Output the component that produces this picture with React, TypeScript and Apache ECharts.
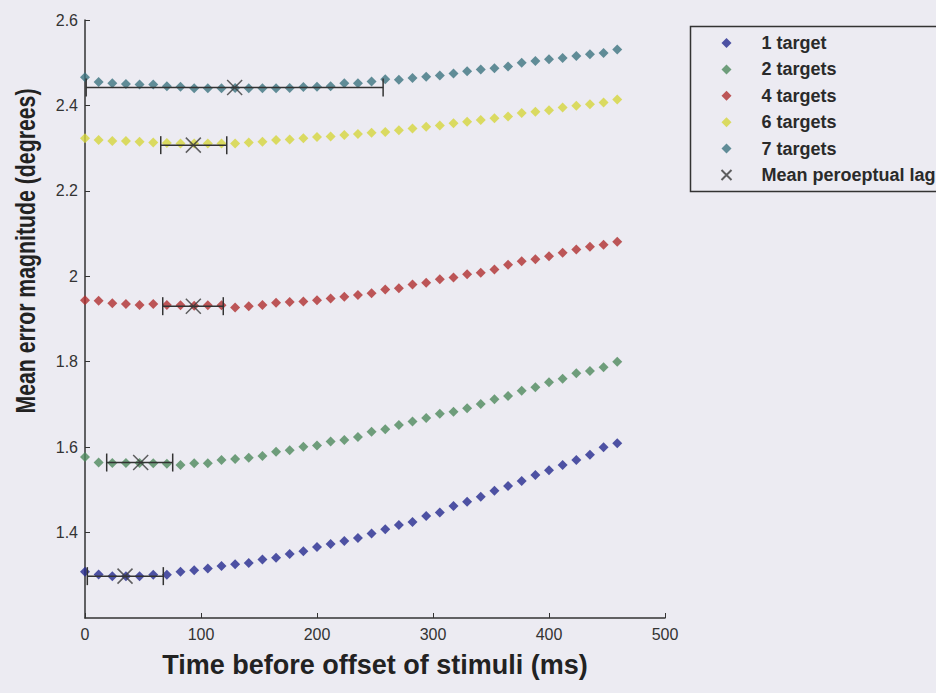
import React, { useEffect, useRef } from "react";
import * as echarts from "echarts";

// Frame times (ms before offset), 85 Hz frames
const times = [
  0, 11.76, 23.53, 35.29, 47.06, 58.82, 70.59, 82.35, 94.12, 105.88,
  117.65, 129.41, 141.18, 152.94, 164.71, 176.47, 188.24, 200, 211.76, 223.53,
  235.29, 247.06, 258.82, 270.59, 282.35, 294.12, 305.88, 317.65, 329.41, 341.18,
  352.94, 364.71, 376.47, 388.24, 400, 411.76, 423.53, 435.29, 447.06, 458.82,
];

const oneTarget = [
  1.308, 1.302, 1.298, 1.298, 1.298, 1.301, 1.301, 1.308, 1.312, 1.316,
  1.322, 1.326, 1.329, 1.337, 1.341, 1.35, 1.356, 1.366, 1.373, 1.38,
  1.387, 1.398, 1.408, 1.418, 1.425, 1.439, 1.447, 1.462, 1.472, 1.484,
  1.498, 1.509, 1.521, 1.535, 1.546, 1.558, 1.57, 1.582, 1.6, 1.609,
];
const twoTargets = [
  1.577, 1.564, 1.563, 1.563, 1.563, 1.562, 1.561, 1.558, 1.562, 1.562,
  1.57, 1.572, 1.575, 1.579, 1.589, 1.593, 1.601, 1.604, 1.613, 1.617,
  1.624, 1.636, 1.642, 1.652, 1.66, 1.668, 1.678, 1.683, 1.691, 1.701,
  1.712, 1.72, 1.732, 1.74, 1.752, 1.76, 1.773, 1.778, 1.787, 1.8,
];
const fourTargets = [
  1.944, 1.943, 1.937, 1.935, 1.933, 1.935, 1.933, 1.932, 1.931, 1.932,
  1.932, 1.927, 1.93, 1.933, 1.938, 1.94, 1.941, 1.944, 1.948, 1.952,
  1.956, 1.96, 1.969, 1.972, 1.981, 1.985, 1.993, 1.997, 2.005, 2.008,
  2.016, 2.027, 2.035, 2.04, 2.047, 2.055, 2.063, 2.069, 2.074, 2.081,
];
const sixTargets = [
  2.323, 2.319, 2.317, 2.317, 2.315, 2.313, 2.312, 2.311, 2.311, 2.311,
  2.311, 2.311, 2.313, 2.315, 2.319, 2.32, 2.323, 2.326, 2.327, 2.331,
  2.333, 2.336, 2.338, 2.342, 2.346, 2.35, 2.353, 2.358, 2.362, 2.366,
  2.37, 2.374, 2.382, 2.385, 2.389, 2.395, 2.399, 2.403, 2.407, 2.414,
];
const sevenTargets = [
  2.466, 2.455, 2.452, 2.45, 2.449, 2.449, 2.445, 2.444, 2.44, 2.44,
  2.44, 2.441, 2.44, 2.44, 2.44, 2.441, 2.443, 2.444, 2.445, 2.452,
  2.452, 2.456, 2.461, 2.46, 2.464, 2.467, 2.47, 2.475, 2.48, 2.484,
  2.487, 2.491, 2.5, 2.504, 2.508, 2.511, 2.516, 2.52, 2.523, 2.531,
];

// Mean perceptual lag (ms) with horizontal error bars, per set size
const lagMean = [34.5, 48, 93.4, 93.4, 129];
const lagY = [1.298, 1.564, 1.93, 2.307, 2.442];
const lagLow = [2, 18.7, 67, 65.3, 1];
const lagHigh = [67.5, 75.6, 119.2, 122.2, 257];

const seriesNames = ["1 target", "2 targets", "4 targets", "6 targets", "7 targets"];
const seriesValues = [oneTarget, twoTargets, fourTargets, sixTargets, sevenTargets];
const seriesColors = ["#262a8f", "#4f8a5c", "#b03030", "#d6d63c", "#3d7480"];
const lagName = "Mean peroeptual lag";

const yTicks = [1.2, 1.4, 1.6, 1.8, 2, 2.2, 2.4, 2.6];
const xTicks = [0, 100, 200, 300, 400, 500];

export default function App() {
  const ref = useRef<HTMLDivElement>(null);
  useEffect(() => {
    if (!ref.current) return;
    const chart = echarts.init(ref.current, null, { renderer: "svg" });
    const font = "'Liberation Sans', Arial, sans-serif";
    const scatter = seriesNames.map((name, k) => ({
      name,
      type: "scatter",
      symbol: "diamond",
      symbolSize: [10, 10],
      itemStyle: { color: seriesColors[k] },
      data: times.map((t, i) => [t, seriesValues[k][i]]),
      z: 2,
    }));
    const errData = lagMean.map((m, i) => [m, lagY[i], lagLow[i], lagHigh[i]]);
    chart.setOption({
      animation: false,
      backgroundColor: "#ecebf2",
      textStyle: { fontFamily: font },
      grid: { left: 85, right: 271, top: 20, bottom: 75 },
      xAxis: {
        type: "value",
        min: xTicks[0],
        max: xTicks[xTicks.length - 1],
        interval: 100,
        name: "Time before offset of stimuli (ms)",
        nameLocation: "middle",
        nameGap: 33,
        nameTextStyle: { fontSize: 27, fontWeight: "bold", color: "#222", fontFamily: font },
        axisLine: { lineStyle: { color: "#333", width: 1.5 } },
        axisTick: { inside: true, length: 5, lineStyle: { color: "#333" } },
        axisLabel: { fontSize: 16, color: "#333", margin: 8, fontFamily: font },
        splitLine: { show: false },
      },
      yAxis: {
        type: "value",
        min: yTicks[0],
        max: yTicks[yTicks.length - 1],
        interval: 0.2,
        axisLine: { show: true, lineStyle: { color: "#333", width: 1.5 } },
        axisTick: { show: true, inside: true, length: 5, lineStyle: { color: "#333" } },
        axisLabel: {
          fontSize: 16,
          color: "#333",
          margin: 7,
          showMinLabel: false,
          fontFamily: font,
          formatter: (v: number) => String(Math.round(v * 10) / 10),
        },
        splitLine: { show: false },
      },
      legend: {
        orient: "vertical",
        left: 714,
        top: 29,
        itemWidth: 10,
        itemHeight: 10,
        itemGap: 8.4,
        data: [...seriesNames, lagName],
        textStyle: { fontSize: 18, fontWeight: "bold", color: "#2a2a2a", padding: [0, 0, 0, 25], fontFamily: font },
      },
      graphic: [
        {
          type: "rect",
          left: 688,
          top: 24,
          shape: { x: 0, y: 0, width: 320, height: 165 },
          style: { fill: "none", stroke: "#333", lineWidth: 1.5 },
          z: 1,
        },
        {
          type: "text",
          x: 25,
          y: 251,
          rotation: Math.PI / 2,
          scaleX: 0.76,
          style: {
            text: "Mean error magnitude (degrees)",
            font: `bold 28px ${font}`,
            fill: "#222",
            align: "center",
            verticalAlign: "middle",
          },
        },
      ],
      series: [
        ...scatter,
        {
          type: "custom",
          silent: true,
          z: 3,
          encode: { x: [0, 2, 3], y: 1 },
          data: errData,
          renderItem: (params: any, api: any) => {
            const y = api.value(1);
            const p0 = api.coord([api.value(2), y]);
            const p1 = api.coord([api.value(3), y]);
            const h = 9;
            const style = { stroke: "#333", lineWidth: 1.5 };
            return {
              type: "group",
              children: [
                { type: "line", shape: { x1: p0[0], y1: p0[1], x2: p1[0], y2: p1[1] }, style },
                { type: "line", shape: { x1: p0[0], y1: p0[1] - h, x2: p0[0], y2: p0[1] + h }, style },
                { type: "line", shape: { x1: p1[0], y1: p1[1] - h, x2: p1[0], y2: p1[1] + h }, style },
              ],
            };
          },
        },
        {
          name: lagName,
          type: "scatter",
          symbol: "path://M0 0L10 10M10 0L0 10",
          symbolSize: 15,
          itemStyle: { color: "none", borderColor: "#3a3a3a", borderWidth: 1.5 },
          data: lagMean.map((m, i) => [m, lagY[i]]),
          z: 4,
        },
      ],
    });
    return () => chart.dispose();
  }, []);
  return (
    <div
      ref={ref}
      style={{ position: "fixed", left: 0, top: 0, width: 936, height: 693 }}
    />
  );
}
